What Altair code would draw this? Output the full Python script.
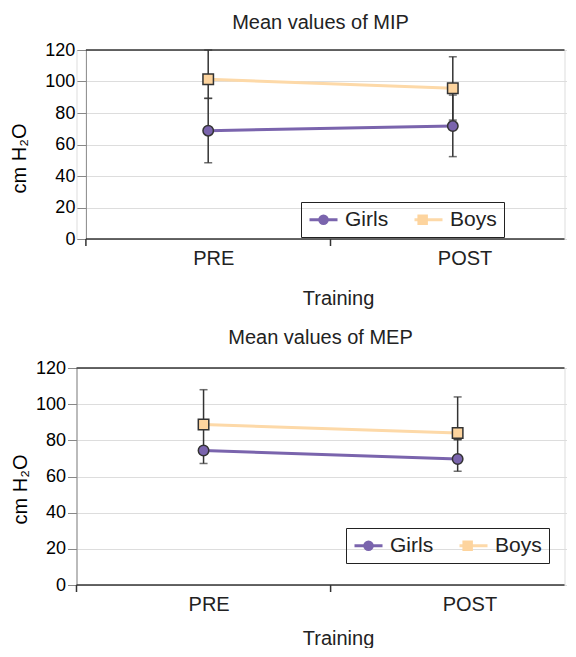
import altair as alt
import pandas as pd

FONT = "Liberation Sans"
phases = ["PRE", "POST"]
groups = ["Girls", "Boys"]

# Mean values of MIP (cm H2O) and error-bar ends
mip_girls = [68.8, 71.7]
mip_girls_lo = [48.4, 52.3]
mip_girls_hi = [89.3, 91.4]
mip_boys = [101.4, 95.7]
mip_boys_lo = [89.3, 75.5]
mip_boys_hi = [120.0, 115.7]

# Mean values of MEP (cm H2O) and error-bar ends
mep_girls = [74.4, 69.7]
mep_girls_lo = [67.2, 62.9]
mep_girls_hi = [75.5, 80.4]
mep_boys = [88.7, 84.1]
mep_boys_lo = [75.5, 80.4]
mep_boys_hi = [108.0, 104.0]

line_colors = ["#7a64ad", "#fdd9a8"]
fill_colors = ["#7a64ad", "#fdd49e"]

rows = []
for panel, series in [
    ("MIP", {"Girls": (mip_girls, mip_girls_lo, mip_girls_hi), "Boys": (mip_boys, mip_boys_lo, mip_boys_hi)}),
    ("MEP", {"Girls": (mep_girls, mep_girls_lo, mep_girls_hi), "Boys": (mep_boys, mep_boys_lo, mep_boys_hi)}),
]:
    for g in groups:
        vals, los, his = series[g]
        for i, ph in enumerate(phases):
            rows.append({"panel": panel, "phase": ph, "series": g, "series_line": g,
                         "value": vals[i], "lo": los[i], "hi": his[i]})
df = pd.DataFrame(rows)
phase_df = pd.DataFrame({"phase": phases})

W = 488
AX = "#333333"
TXT = "#222222"
LEG_FS = 21
LBL_OFF = 11
COL_PAD = 19
GIRLS_W = 2.055 * LEG_FS  # width of the "Girls" label


def make_panel(name, title, h, d, rend, lx, ly, tx, ty, toff, xt_dy):
    data = df[df["panel"] == name]
    xscale = alt.Scale(type="band", domain=phases, range=[d, rend], paddingInner=0, paddingOuter=0)
    x = alt.X("phase:N", sort=phases, scale=xscale, axis=None)

    def yenc(field):
        return alt.Y(f"{field}:Q", title="cm H₂O",
                     scale=alt.Scale(domain=[0, 120], nice=False),
                     axis=alt.Axis(values=[0, 20, 40, 60, 80, 100, 120], offset=-d, tickSize=9,
                                   labelPadding=2, labelFontSize=18, titleFontSize=20,
                                   titleFontWeight="normal", titleX=tx, titleY=ty,
                                   titleBaseline="middle", titleAngle=270))

    base = alt.Chart(data).encode(x=x)
    one = pd.DataFrame({"k": [0]})
    border = alt.Chart(one).mark_rule(color=AX, strokeWidth=1.5).encode(
        x=alt.value(d), x2=alt.value(W), y=alt.value(0))
    xline = alt.Chart(one).mark_rule(color=AX, strokeWidth=1.5).encode(
        x=alt.value(d), x2=alt.value(W), y=alt.value(h))
    xticks = alt.Chart(phase_df).mark_rule(color=AX, strokeWidth=1.5).encode(
        x=alt.X("phase:N", sort=phases, scale=xscale, axis=None, bandPosition=0),
        y=alt.value(h), y2=alt.value(h + 7))
    xlabels = alt.Chart(phase_df).mark_text(
        align="left", baseline="middle", dx=-15, fontSize=20, font=FONT, color=TXT).encode(
        x=x, y=alt.value(h + 20), text="phase:N")
    xtitle = alt.Chart(one).mark_text(
        align="center", baseline="middle", fontSize=20, font=FONT, color=TXT).encode(
        x=alt.value(262), y=alt.value(h + xt_dy), text=alt.value("Training"))

    leg_line = alt.Legend(title=None, orient="none", legendX=lx, legendY=ly, direction="horizontal",
                          columns=2, symbolType="M-2.67,0H2.67", symbolSize=110, symbolStrokeWidth=3,
                          labelFontSize=LEG_FS, labelFont=FONT, labelColor=TXT, labelOffset=LBL_OFF,
                          columnPadding=COL_PAD, padding=7, symbolOffset=5, strokeColor=TXT)
    leg_pt = alt.Legend(title=None, orient="none", legendX=lx, legendY=ly, direction="horizontal",
                        columns=2, symbolSize=110, symbolStrokeWidth=1.5, symbolStrokeColor=AX,
                        labelFontSize=LEG_FS, labelFont=FONT, labelExpr="''", labelOffset=LBL_OFF,
                        columnPadding=COL_PAD + GIRLS_W, padding=7, symbolOffset=5)

    lines = base.mark_line(strokeWidth=3).encode(
        y=yenc("value"),
        color=alt.Color("series_line:N", sort=groups, scale=alt.Scale(range=line_colors), legend=leg_line))
    rules = base.mark_rule(color=AX, strokeWidth=1.5).encode(y=yenc("lo"), y2="hi:Q")
    cap_lo = base.mark_tick(color=AX, size=8, thickness=1.5).encode(y=yenc("lo"))
    cap_hi = base.mark_tick(color=AX, size=8, thickness=1.5).encode(y=yenc("hi"))
    pts = base.mark_point(filled=True, size=110, opacity=1, stroke=AX, strokeWidth=1.5).encode(
        y=yenc("value"),
        fill=alt.Fill("series:N", scale=alt.Scale(domain=groups, range=fill_colors), legend=leg_pt),
        shape=alt.Shape("series:N", scale=alt.Scale(domain=groups, range=["circle", "square"]), legend=leg_pt))

    return alt.layer(lines, border, xline, xticks, xlabels, xtitle, rules, cap_lo, cap_hi, pts).properties(
        width=W, height=h,
        title=alt.Title(title, fontSize=20, fontWeight="normal", font=FONT, color=TXT, offset=toff))


top = make_panel("MIP", "Mean values of MIP", 189, 9.4, 498.6, 224.5, 152, -66, 108, 8, 60)
bottom = make_panel("MEP", "Mean values of MEP", 217, 0, 508.2, 269.5, 160, -56, 121, 11, 54)

chart = alt.vconcat(top, bottom, spacing=17).resolve_scale(
    x="independent", y="independent", color="independent", fill="independent", shape="independent"
).resolve_legend(color="independent", fill="independent", shape="independent").properties(
    padding={"left": 0.5, "top": 4, "right": 0, "bottom": -2}
).configure_view(stroke=None).configure_axis(
    domainColor=AX, domainWidth=1.5, tickColor=AX, tickWidth=1.5, labelColor=TXT,
    titleColor=TXT, labelFont=FONT, titleFont=FONT, grid=False
).configure(background="white")

chart.save("out.html", embed_options={"renderer": "svg", "actions": False})
